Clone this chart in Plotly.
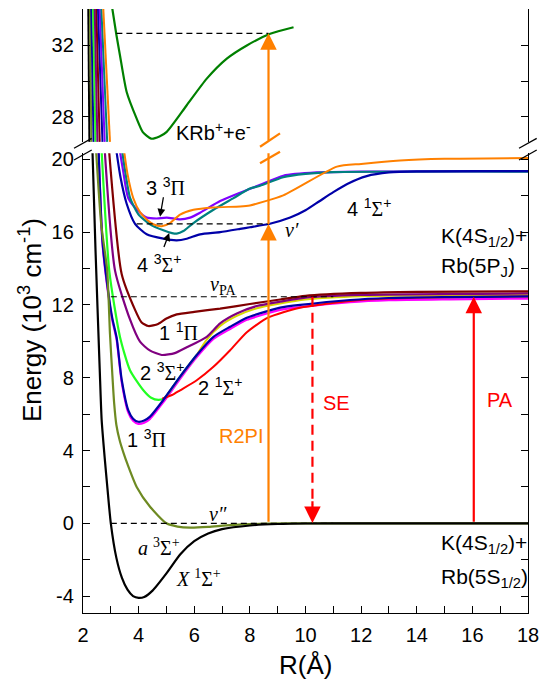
import plotly.graph_objects as go

# ---------------- data (R in Angstrom, E in 10^3 cm^-1) ----------------
X_R = [2.33, 2.45, 2.6, 2.67, 2.78, 2.88, 3.0, 3.2, 3.4, 3.6, 3.8, 4.0, 4.2, 4.5, 5.0, 5.5, 6.0, 6.5, 7.0, 8.0, 9.0, 10, 12, 18]
X_E = [21, 15.0, 8.5, 5.7, 3.6, 1.9, 0.0, -1.9, -3.0, -3.65, -4.0, -4.1, -4.05, -3.7, -2.75, -1.7, -0.98, -0.56, -0.32, -0.12, -0.04, -0.01, 0, 0]

A_R = [2.45, 2.65, 2.87, 2.97, 3.05, 3.12, 3.2, 3.32, 3.45, 3.6, 3.93, 4.41, 5.0, 5.4, 5.85, 6.5, 7.3, 8.6, 10, 18]
A_E = [21, 16.5, 13.9, 10.4, 8.3, 6.6, 5.4, 4.55, 3.9, 3.25, 2.0, 0.91, 0.0, -0.18, -0.24, -0.2, -0.1, -0.02, 0, 0]

P13_R = [2.55, 2.7, 2.9, 3.05, 3.21, 3.39, 3.63, 3.8, 3.99, 4.2, 4.41, 4.89, 5.49, 6.09, 6.69, 7.29, 7.89, 8.61, 9.09, 9.81, 11.6, 13, 15.2, 18]
P13_E = [21, 15.5, 12.8, 11.3, 10.2, 7.9, 6.2, 5.75, 5.58, 5.65, 5.86, 6.78, 8.06, 9.25, 10.25, 10.8, 11.3, 11.65, 11.85, 12.0, 12.27, 12.38, 12.43, 12.47]

S23_R = [2.65, 2.95, 3.33, 3.69, 4.17, 4.45, 4.71, 4.9, 5.0, 5.49, 6.09]
S23_E = [21, 13.8, 10.24, 8.41, 7.31, 6.9, 6.78, 6.85, 7.0, 8.06, 9.25]

Y_R = [6.09, 6.45, 6.93, 7.53, 8.25, 9.09, 10, 12, 18]
Y_E = [9.25, 10.1, 10.85, 11.4, 11.82, 12.08, 12.3, 12.48, 12.55]

S21_R = [4.85, 5.2, 5.49, 6.09, 6.69, 7.29, 7.89, 8.65, 9.8, 11.6, 13, 15, 18]
S21_E = [6.85, 7.05, 7.31, 7.86, 8.6, 9.51, 10.5, 11.3, 11.85, 12.22, 12.35, 12.42, 12.47]

P11_R = [2.76, 3.15, 3.69, 4.05, 4.4, 4.83, 5.3, 5.73, 6.45, 6.93, 7.53, 8.25, 9.09, 10, 12, 18]
P11_E = [21, 13.9, 11.2, 9.98, 9.5, 9.25, 9.35, 9.67, 10.25, 10.99, 11.53, 11.94, 12.18, 12.4, 12.55, 12.63]

MR_R = [2.91, 3.39, 3.88, 4.1, 4.35, 4.7, 5.0, 5.37, 6.0, 6.93, 8.0, 9.09, 10, 12, 14, 18]
MR_E = [21, 13.7, 11.7, 11.05, 10.84, 10.95, 11.25, 11.48, 11.62, 11.8, 12.05, 12.3, 12.5, 12.66, 12.72, 12.75]

S41_R = [3.15, 3.35, 3.57, 3.87, 4.29, 4.89, 5.37, 5.73, 6.21, 6.93, 7.65, 8.0, 8.72, 9.45, 10.0, 10.5, 11.0, 11.5, 12.2, 13.0, 14, 18]
S41_E = [21, 19.0, 17.56, 16.46, 15.88, 15.64, 15.55, 15.64, 15.88, 16.0, 16.18, 16.27, 16.46, 16.8, 17.2, 17.7, 18.2, 18.65, 19.08, 19.28, 19.34, 19.35]

S43_R = [3.36, 3.5, 3.69, 3.99, 4.41, 4.89, 5.2, 5.37, 5.61, 5.97, 6.69, 7.41, 8.0, 8.37, 9.2, 10, 11, 18]
S43_E = [21, 19.5, 17.9, 16.98, 16.43, 16.1, 15.95, 15.92, 16.06, 16.5, 17.23, 17.87, 18.4, 18.55, 19.02, 19.2, 19.3, 19.33]

P33_R = [3.27, 3.45, 3.63, 3.99, 4.29, 4.65, 5.01, 5.49, 5.85, 6.21, 6.93, 7.65, 8.37, 9.2, 10.4, 12, 18]
P33_E = [21, 19.3, 17.86, 17.16, 16.8, 16.75, 16.8, 16.7, 16.8, 17.07, 17.71, 18.17, 18.6, 19.1, 19.28, 19.33, 19.35]

S51_R = [3.43, 3.6, 3.81, 4.05, 4.29, 4.55, 4.83, 5.13, 5.49, 5.97, 6.69, 7.65, 8.0, 9.2, 11.13, 12.0, 13.4, 15, 18]
S51_E = [21, 19.2, 17.86, 17.1, 16.7, 16.42, 16.33, 16.5, 16.96, 17.23, 17.36, 17.41, 17.47, 18.02, 19.6, 19.75, 19.94, 20.03, 20.07]

ION_R = [3.05, 3.2, 3.33, 3.57, 3.93, 4.15, 4.45, 4.75, 5.01, 5.73, 6.45, 7.17, 7.89, 8.73, 9.57]
ION_E = [34.1, 32.6, 31.44, 29.39, 27.9, 27.15, 26.78, 26.9, 27.16, 28.65, 30.14, 31.26, 32.0, 32.65, 33.02]

# inner walls seen in the upper panel: R at E = 26.6 and at E = 34.04
WALL_E = [26.6, 34.04]
WALL_LOW = {"X": 2.23, "a": 2.3, "13Pi": 2.38, "23S": 2.45, "11Pi": 2.52, "mr": 2.6,
            "41S": 2.7, "33Pi": 2.78, "43S": 2.87, "51S": 2.97}
WALL_HIGH = {"X": 2.19, "a": 2.25, "13Pi": 2.3, "23S": 2.36, "11Pi": 2.42, "mr": 2.48,
             "41S": 2.54, "33Pi": 2.6, "43S": 2.66, "51S": 2.73}

X_TICKS = list(range(2, 19))
X_LABELS = [str(v) if v % 2 == 0 else "" for v in X_TICKS]
Y_TICKS = list(range(-4, 21, 2))
Y_LABELS = [str(v) if v % 4 == 0 else "" for v in Y_TICKS]
Y2_TICKS = [28, 30, 32]
Y2_LABELS = ["28", "", "32"]

R2PI_R = 8.67
SE_R = 10.25
PA_R = 16.05
V_PA = 12.45
V_PRIME = 16.45
V_ION = 32.68

ORANGE = "#FF8000"
RED = "#FF0000"

fig = go.Figure()

def add(R, E, color, width=2.0, axis="y", dash=None):
    fig.add_trace(go.Scatter(x=R, y=E, mode="lines", xaxis="x", yaxis=axis,
                             line=dict(color=color, width=width, dash=dash, shape="spline", smoothing=0.6),
                             hoverinfo="skip", showlegend=False))

# lower-panel curves (order = drawing order)
add(P13_R, [e - 0.12 for e in P13_E], "#FF00FF", 2.2)
add(S23_R, S23_E, "#22FF22", 2.2)
add(Y_R, Y_E, "#D8D800", 2.0)
add(P11_R, P11_E, "#800080", 2.2)
add(S21_R, S21_E, RED, 2.0)
add(P13_R, P13_E, "#0000A8", 2.2)
add(MR_R, MR_E, "#800000", 2.2)
add(A_R, A_E, "#6E8A22", 2.2)
add(X_R, X_E, "#000000", 2.2)
add(P33_R, P33_E, "#8000FF", 2.2)
add(S43_R, S43_E, "#008080", 2.2)
add(S41_R, S41_E, "#0000A8", 2.2)
add(S51_R, S51_E, ORANGE, 2.0)

# upper-panel walls
wall_colors = {"X": "#000000", "a": "#6E8A22", "13Pi": "#0000A8", "23S": "#22FF22", "11Pi": "#800080",
               "mr": "#800000", "41S": "#0000A8", "33Pi": "#8000FF", "43S": "#008080", "51S": ORANGE}
for k, c in wall_colors.items():
    add([WALL_LOW[k], WALL_HIGH[k]], WALL_E, c, 2.0, axis="y2")
add(ION_R, ION_E, "#008000", 2.2, axis="y2")

# dashed level lines
dashk = dict(color="black", width=1.2, dash="6px,4px")
for (r0, r1, e, ax) in [(3.0, 11.0, 0.0, "y"), (3.0, 11.0, V_PA, "y"), (3.93, R2PI_R, V_PRIME, "y"),
                        (3.2, R2PI_R, V_ION, "y2")]:
    fig.add_trace(go.Scatter(x=[r0, r1], y=[e, e], mode="lines", xaxis="x", yaxis=ax,
                             line=dashk, hoverinfo="skip", showlegend=False))

# R2PI orange line segment above v'
fig.add_trace(go.Scatter(x=[R2PI_R, R2PI_R], y=[V_PRIME, 21], mode="lines", xaxis="x", yaxis="y",
                         line=dict(color=ORANGE, width=2.2), hoverinfo="skip", showlegend=False))
# SE dashed red line
fig.add_trace(go.Scatter(x=[SE_R, SE_R], y=[V_PA, 1.0], mode="lines", xaxis="x", yaxis="y",
                         line=dict(color=RED, width=2.2, dash="10px,6px"), hoverinfo="skip", showlegend=False))

ann = []
def arrow(x, y, ax, ay, color, yref="y", width=2.2, size=1.5, head=2):
    ann.append(dict(x=x, y=y, ax=ax, ay=ay, xref="x", yref=yref, axref="x", ayref=yref,
                    showarrow=True, arrowhead=head, arrowsize=size, arrowwidth=width,
                    arrowcolor=color, text="", standoff=0, startstandoff=0))

arrow(R2PI_R, V_PRIME, R2PI_R, 0.0, ORANGE)
arrow(R2PI_R, V_ION, R2PI_R, 26.6, ORANGE, yref="y2")
arrow(PA_R, V_PA, PA_R, 0.0, RED)
arrow(SE_R, 0.02, SE_R, 1.3, RED)
arrow(4.77, 16.85, 4.9, 18.0, "black", width=1.3, size=1.2)
arrow(5.1, 15.95, 4.89, 15.1, "black", width=1.3, size=1.2)

SERIF = "Liberation Serif, Times New Roman, serif"
def s(t):
    return '<span style="font-family:Liberation Serif">' + t + '</span>'

def label(x, y, text, size=20, color="black", yref="y", xanchor="center", family=None):
    d = dict(x=x, y=y, xref="x", yref=yref, text=text, showarrow=False, xanchor=xanchor,
             yanchor="middle", font=dict(size=size, color=color))
    if family:
        d["font"]["family"] = family
    ann.append(d)

label(6.7, 27.2, "KRb<sup>+</sup>+e<sup>-</sup>", yref="y2")
label(12.68, 20.8, "5 <sup>1</sup>" + s("Σ") + "<sup>+</sup>")
label(4.98, 18.5, "3 <sup>3</sup>" + s("Π"))
label(4.73, 14.25, "4 <sup>3</sup>" + s("Σ") + "<sup>+</sup>")
label(9.5, 16.1, "<i>ν′</i>", family=SERIF)
label(12.3, 17.35, "4 <sup>1</sup>" + s("Σ") + "<sup>+</sup>")
label(14.8, 15.75, "K(4S<sub>1/2</sub>)+", size=21, xanchor="left")
label(14.8, 14.1, "Rb(5P<sub>J</sub>)", size=21, xanchor="left")
label(7.05, 13.05, "<i>ν</i><sub>PA</sub>", family=SERIF)
label(5.45, 10.55, "1 <sup>1</sup>" + s("Π"))
label(4.84, 8.35, "2 <sup>3</sup>" + s("Σ") + "<sup>+</sup>")
label(6.93, 7.5, "2 <sup>1</sup>" + s("Σ") + "<sup>+</sup>")
label(4.3, 4.65, "1 <sup>3</sup>" + s("Π"))
label(7.68, 4.77, "R2PI", color=ORANGE)
label(11.13, 6.6, "SE", color=RED)
label(17.0, 6.8, "PA", color=RED)
label(6.87, 0.5, "<i>ν″</i>", family=SERIF)
label(4.73, -1.3, "<i>a</i> <sup>3</sup>Σ<sup>+</sup>", family=SERIF)
label(6.14, -3.0, "<i>X</i> <sup>1</sup>Σ<sup>+</sup>", family=SERIF)
label(14.8, -1.15, "K(4S<sub>1/2</sub>)+", size=21, xanchor="left")
label(14.8, -3.0, "Rb(5S<sub>1/2</sub>)", size=21, xanchor="left")

# axis titles
ann.append(dict(x=0.5, y=-0.086, xref="paper", yref="paper", text="R(Å)", showarrow=False,
                font=dict(size=26), xanchor="center", yanchor="middle"))
ann.append(dict(x=-0.119, y=0.485, xref="paper", yref="paper", text="Energy (10<sup>3</sup> cm<sup>-1</sup>)",
                showarrow=False, textangle=-90, font=dict(size=26), xanchor="center", yanchor="middle"))

# break marks
shapes = []
def pline(x0, y0, x1, y1, color="black", w=1.3):
    shapes.append(dict(type="line", xref="paper", yref="paper", x0=x0, y0=y0, x1=x1, y1=y1,
                       line=dict(color=color, width=w)))
for xc in (0.0, 1.0):
    pline(xc - 0.0202, 0.7694, xc + 0.0196, 0.7859)
    pline(xc - 0.0202, 0.7500, xc + 0.0196, 0.7666)
pline(0.3978, 0.772, 0.4427, 0.7942, ORANGE, 2.2)
pline(0.3978, 0.7445, 0.4427, 0.7637, ORANGE, 2.2)

axis_common = dict(ticks="inside", ticklen=7, tickwidth=1.4, showline=True, linewidth=1.4,
                   linecolor="black", tickcolor="black", showgrid=False, zeroline=False,
                   automargin=False, tickfont=dict(size=20, color="black"))

fig.update_layout(
    width=542, height=688,
    margin=dict(l=83, r=14, t=9, b=75, autoexpand=False),
    paper_bgcolor="white", plot_bgcolor="white",
    font=dict(family="Liberation Sans, Arial, sans-serif", color="black"),
    showlegend=False,
    xaxis=dict(domain=[0, 1], anchor="y", range=[2, 18], tickmode="array", tickvals=X_TICKS,
               ticktext=X_LABELS, ticklabelstandoff=4, **axis_common),
    xaxis2=dict(domain=[0, 1], anchor="y2", matches="x", range=[2, 18], side="top", tickmode="array",
                tickvals=X_TICKS, ticktext=[""] * len(X_TICKS), **axis_common),
    yaxis=dict(domain=[0, 0.761], anchor="x", range=[-4.93, 20.33], tickmode="array", tickvals=Y_TICKS,
               ticktext=Y_LABELS, mirror="ticks", ticklabelstandoff=4, **axis_common),
    yaxis2=dict(domain=[0.78, 1], anchor="x", range=[26.6, 34.04], tickmode="array", tickvals=Y2_TICKS,
                ticktext=Y2_LABELS, mirror="ticks", ticklabelstandoff=4, **axis_common),
    annotations=ann,
    shapes=shapes,
)

fig.write_html("out.html", config={"displayModeBar": False},
               post_script="document.body.style.margin='0';")
